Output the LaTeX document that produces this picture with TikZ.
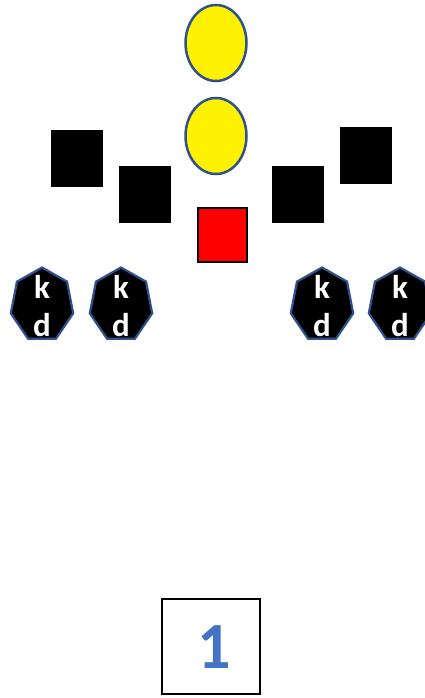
\documentclass[tikz,border=0pt]{standalone}
\usepackage{fontspec}
\setsansfont{Carlito}
\usetikzlibrary{shapes.geometric}
\definecolor{rimblue}{HTML}{2F528F}
\definecolor{oneblue}{HTML}{4472C4}

\begin{document}
\begin{tikzpicture}[x=1pt,y=-1pt,
  oval/.style={ellipse,draw=rimblue,line width=2.5pt,fill=yellow,minimum width=61pt,minimum height=76pt},
  blk/.style={fill=black,minimum width=52pt,minimum height=57pt},
  hept/.style={draw=rimblue,line width=2.2pt,fill=black},
  kd/.style={text=white,inner sep=0pt,font=\sffamily\bfseries\fontsize{33}{33}\selectfont}]
  \useasboundingbox (0,0) rectangle (425,698);
  % two ovals on top
  \node[oval] (ovtop) at (216,43) {};
  \node[oval] (ovmid) at (216,136) {};
  % black squares and the red one
  \node[blk] (sq1) at (77,158.5) {};
  \node[blk] (sq2) at (145,194) {};
  \node[blk] (sq3) at (297.5,194) {};
  \node[blk] (sq4) at (365.5,155.5) {};
  \node[fill=red,draw=black,line width=2.2pt,minimum width=49pt,minimum height=54pt] (red) at (222.5,235) {};
  % heptagons
  \foreach \cx/\nm in {42/ha,121/hb,322/hc,400/hd} {
    \draw[hept] ({\cx+32*cos(90)},{305-37.5*sin(90)})
      \foreach \i in {1,...,6} { -- ({\cx+32*cos(90+\i*360/7)},{305-37.5*sin(90+\i*360/7)}) } -- cycle;
    \node[kd] (\nm k) at (\cx,287) {k};
    \node[kd] (\nm d) at (\cx,325) {d};
  }
  % number box
  \node[draw,line width=2pt,minimum width=98pt,minimum height=95pt] (numbox) at (210.5,646) {};
  \node[text=oneblue,font=\sffamily\bfseries\fontsize{66}{66}\selectfont,inner sep=0pt] (one) at (214,647) {1};
\end{tikzpicture}
\end{document}
